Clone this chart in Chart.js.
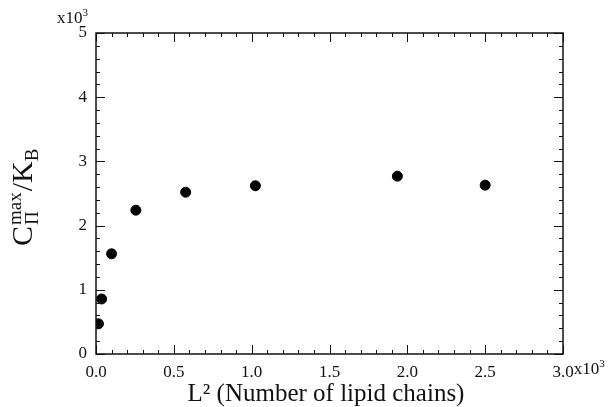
<!DOCTYPE html>
<html>
<head>
<meta charset="utf-8">
<script src="https://cdn.jsdelivr.net/npm/chart.js@4/dist/chart.umd.min.js"></script>
<style>
  html, body { margin: 0; padding: 0; background: #fff; }
  #wrap { width: 610px; height: 407px; position: relative; }
</style>
</head>
<body>
<div id="wrap"><canvas id="chart"></canvas></div>
<script>
// L^2 values (number of lipid chains) and C_Pi^max / k_B
const lChains = [16, 36, 100, 256, 576, 1024, 1936, 2500];
const cPiMax = [470, 857, 1560, 2240, 2520, 2620, 2770, 2630];

const xTicks = [0, 500, 1000, 1500, 2000, 2500, 3000];
const yTicks = [0, 1000, 2000, 3000, 4000, 5000];

const serif = '"Liberation Serif", "DejaVu Serif", serif';
const ink = '#111';

// frame, inward ticks on all sides, axis titles and the x10^3 markers
const framePlugin = {
  id: 'frame',
  afterDraw(chart) {
    const ctx = chart.ctx;
    const { left, right, top, bottom } = chart.chartArea;
    const xs = chart.scales.x;
    const ys = chart.scales.y;
    ctx.save();
    ctx.strokeStyle = ink;
    ctx.lineWidth = 1.5;
    ctx.strokeRect(left, top, right - left, bottom - top);

    ctx.lineWidth = 1;
    ctx.beginPath();
    for (let v = 0; v <= 3000; v += 100) {
      const px = Math.round(xs.getPixelForValue(v)) + 0.5;
      const len = v % 500 === 0 ? 9 : 4;
      ctx.moveTo(px, bottom); ctx.lineTo(px, bottom - len);
      ctx.moveTo(px, top); ctx.lineTo(px, top + len);
    }
    for (let v = 0; v <= 5000; v += 200) {
      const py = Math.round(ys.getPixelForValue(v)) + 0.5;
      const len = v % 1000 === 0 ? 9 : 4;
      ctx.moveTo(left, py); ctx.lineTo(left + len, py);
      ctx.moveTo(right, py); ctx.lineTo(right - len, py);
    }
    ctx.stroke();

    ctx.fillStyle = ink;
    // exponent markers
    ctx.textBaseline = 'alphabetic';
    ctx.textAlign = 'right';
    ctx.font = '11px ' + serif;
    const w3 = ctx.measureText('3').width;
    ctx.fillText('3', left - 8, 16);
    ctx.font = '17px ' + serif;
    ctx.fillText('x10', left - 8 - w3, 23);

    ctx.textAlign = 'left';
    const xEnd = xs.getPixelForValue(3000) + ctx.measureText('3.0').width / 2;
    ctx.fillText('x10', xEnd, 374);
    const wx = ctx.measureText('x10').width;
    ctx.font = '11px ' + serif;
    ctx.fillText('3', xEnd + wx, 367);

    // x title
    ctx.textAlign = 'center';
    ctx.font = '25px ' + serif;
    ctx.fillText('L\u00B2 (Number of lipid chains)', 326, 401);

    // y title: C_Pi^max / K_B
    ctx.translate(32, 246);
    ctx.rotate(-Math.PI / 2);
    ctx.textAlign = 'left';
    let x = 0;
    ctx.font = '30px ' + serif;
    ctx.fillText('C', x, 0);
    x += ctx.measureText('C').width + 1;
    ctx.font = '19px ' + serif;
    ctx.fillText('\u03A0', x, 6);
    const wPi = ctx.measureText('\u03A0').width;
    ctx.fillText('max', x, -11);
    x += Math.max(wPi, ctx.measureText('max').width) + 1;
    ctx.font = '30px ' + serif;
    ctx.fillText('/K', x, 0);
    x += ctx.measureText('/K').width;
    ctx.font = '19px ' + serif;
    ctx.fillText('B', x, 6);
    ctx.restore();
  }
};

new Chart(document.getElementById('chart'), {
  type: 'scatter',
  data: {
    datasets: [{
      data: lChains.map((v, i) => ({ x: v, y: cPiMax[i] })),
      backgroundColor: '#000',
      borderColor: '#000',
      pointRadius: 5,
      pointHoverRadius: 5
    }]
  },
  options: {
    responsive: true,
    maintainAspectRatio: false,
    animation: false,
    layout: { padding: { left: 0, right: 47, top: 33, bottom: 0 } },
    plugins: {
      legend: { display: false },
      tooltip: { enabled: false }
    },
    scales: {
      x: {
        type: 'linear',
        min: 0,
        max: 3000,
        afterFit: (scale) => { scale.height = 53; },
        afterBuildTicks: (scale) => { scale.ticks = xTicks.map(v => ({ value: v })); },
        grid: { display: false, drawTicks: false },
        border: { display: false },
        ticks: {
          padding: 8,
          color: ink,
          font: { family: serif, size: 17 },
          maxRotation: 0,
          callback: (v) => (v / 1000).toFixed(1)
        }
      },
      y: {
        type: 'linear',
        min: 0,
        max: 5000,
        afterFit: (scale) => { scale.width = 96; },
        afterBuildTicks: (scale) => { scale.ticks = yTicks.map(v => ({ value: v })); },
        grid: { display: false, drawTicks: false },
        border: { display: false },
        ticks: {
          padding: 9,
          color: ink,
          font: { family: serif, size: 17 },
          callback: (v) => String(v / 1000)
        }
      }
    }
  },
  plugins: [framePlugin]
});
</script>
</body>
</html>
